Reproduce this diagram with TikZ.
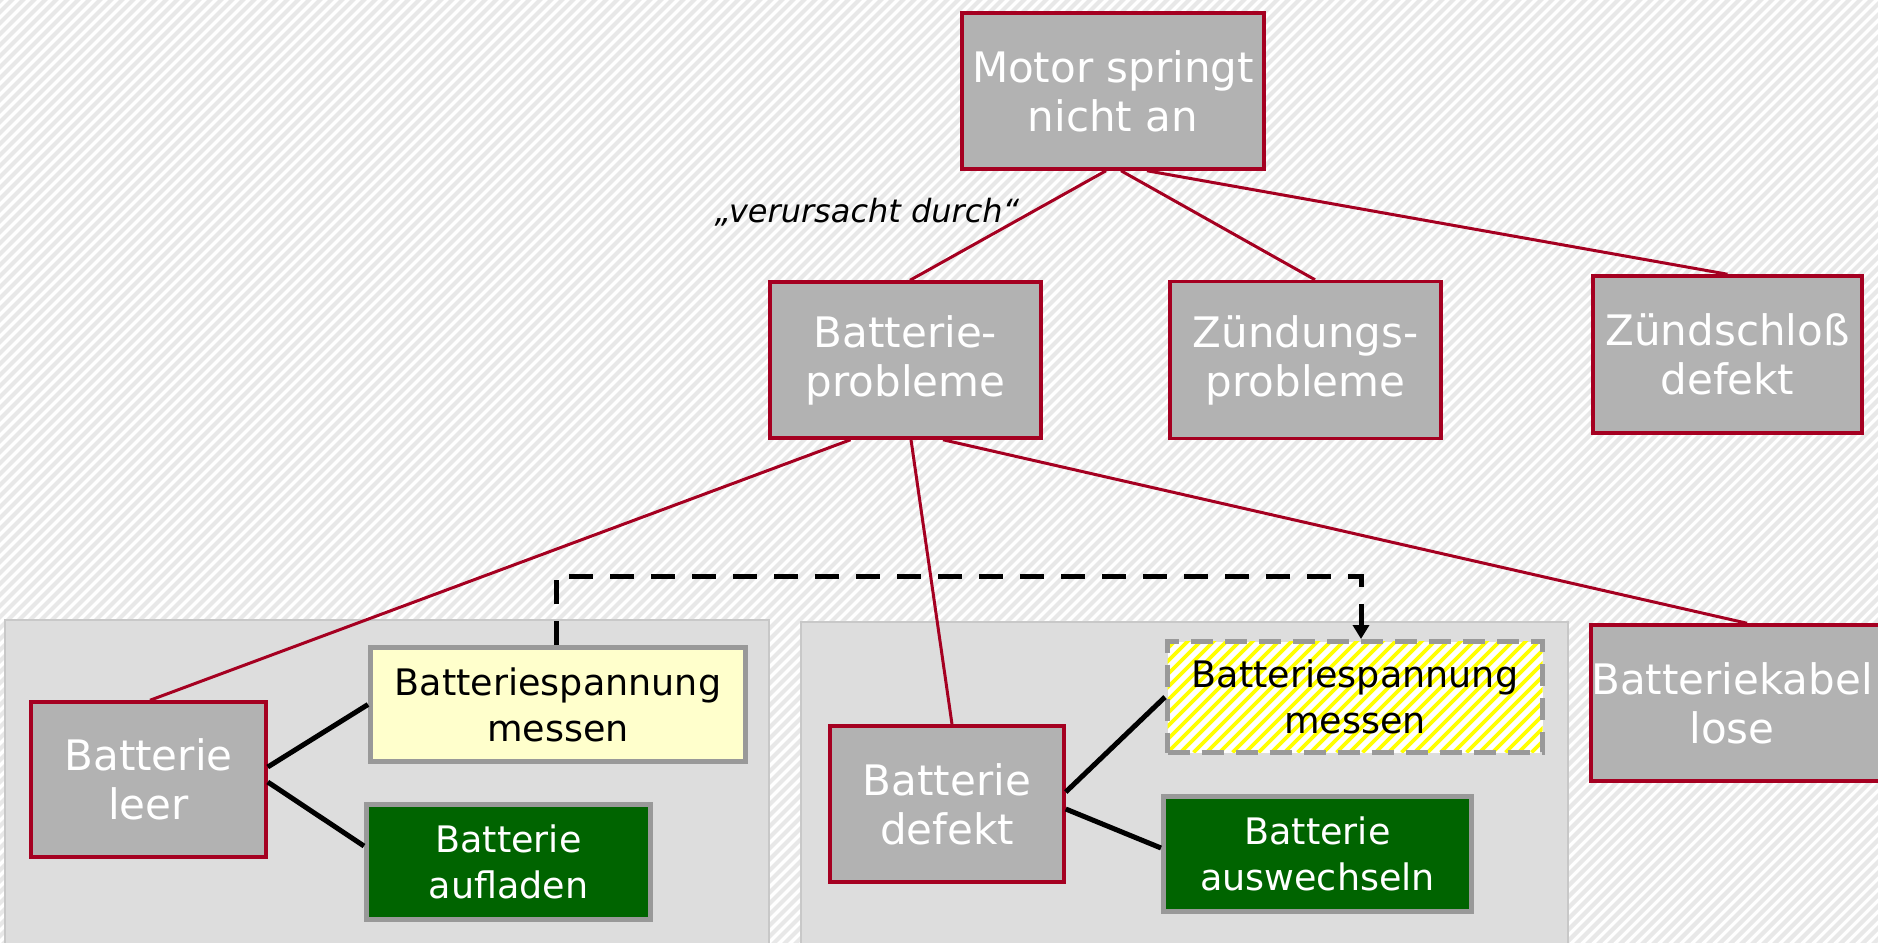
\documentclass[tikz,border=0pt]{standalone}
\usepackage{fontspec}
\setmainfont{DejaVu Sans}
\usetikzlibrary{calc,arrows.meta}

\definecolor{causered}{HTML}{A50021}
\definecolor{nodegrey}{HTML}{B2B2B2}
\definecolor{panelgrey}{HTML}{DDDDDD}
\definecolor{panelline}{HTML}{C8C8C8}
\definecolor{boxgrey}{HTML}{999999}
\definecolor{paleyellow}{HTML}{FFFFCC}
\definecolor{actiongreen}{HTML}{006400}
\definecolor{stripegrey}{HTML}{E8E8E8}
\definecolor{hatchyellow}{HTML}{FFFF00}

\tikzset{
  cause/.style={draw=causered, line width=1.75pt, fill=nodegrey, text=white,
    align=center, inner sep=0pt, font=\fontsize{21}{24.5}\selectfont},
  action/.style={draw=boxgrey, line width=2.5pt, align=center, inner sep=0pt,
    font=\fontsize{18.25}{23}\selectfont},
  measure/.style={action, fill=paleyellow, text=black},
  remedy/.style={action, fill=actiongreen, text=white},
  suggested/.style={action, dash pattern=on 11pt off 6pt, fill=white, text=black,
    path picture={
      \foreach \i in {-12,...,32}{
        \draw[hatchyellow, line width=1.9pt, solid]
          ([xshift=\i*6.5pt]path picture bounding box.south west) -- ++(70pt,70pt);
      }
    }},
  redlink/.style={draw=causered, line width=1.5pt},
  blacklink/.style={draw=black, line width=2.5pt},
  reuse/.style={draw=black, line width=2.5pt, dash pattern=on 12pt off 8.5pt,
    -{Triangle[width=8pt,length=7pt]}},
  panel/.style={fill=panelgrey, draw=panelline, line width=0.6pt},
}

\begin{document}
\begin{tikzpicture}[x=0.5pt,y=-0.5pt]
  \useasboundingbox (0,0) rectangle (1878,942);

  % striped backdrop
  \begin{scope}
    \clip (0,0) rectangle (1878,942);
    \fill[white] (0,0) rectangle (1878,942);
    \foreach \i in {0,...,262}{
      \draw[stripegrey, line width=2.1pt] (\i*11,-10) -- (\i*11-960,950);
    }
    % grey panels behind the two sub-trees
    \draw[panel] (5,620) rectangle (769,946);
    \draw[panel] (801,622) rectangle (1568,946);
  \end{scope}

  % causes
  \node[cause, minimum width=151pt, minimum height=78pt] (motor) at (1113,91)
    {Motor springt\\nicht an};
  \node[cause, minimum width=135.5pt, minimum height=78pt] (bp) at (905.5,360)
    {Batterie-\\probleme};
  \node[cause, minimum width=135.5pt, minimum height=78.5pt] (zp) at (1305.5,360)
    {Zündungs-\\probleme};
  \node[cause, minimum width=134.5pt, minimum height=78.5pt] (zs) at (1727.5,354.5)
    {Zündschloß\\defekt};
  \node[cause, minimum width=117.5pt, minimum height=77.5pt] (bl) at (148.5,779.5)
    {Batterie\\leer};
  \node[cause, minimum width=117pt, minimum height=78pt] (bd) at (947,804)
    {Batterie\\defekt};
  \node[cause, minimum width=148pt, minimum height=78pt] (bk) at (1742,703)
    {Batteriekabel\hspace*{10pt}\\lose\hspace*{10pt}};

  % actions
  \node[measure, minimum width=187.5pt, minimum height=57pt] (ym) at (558,704.5)
    {Batteriespannung\\messen};
  \node[remedy, minimum width=142pt, minimum height=57.5pt] (ba) at (508.5,862)
    {Batterie\\aufladen};
  \node[suggested, minimum width=187.5pt, minimum height=55.5pt] (hm) at (1355,697)
    {Batteriespannung\\messen};
  \node[remedy, minimum width=154pt, minimum height=57.5pt] (bw) at (1317.5,854)
    {Batterie\\auswechseln};

  % label of the cause relation
  \node[font=\fontsize{16}{19}\selectfont\itshape] (lbl) at (867,212)
    {„verursacht durch“};

  % cause links
  \draw[redlink] ($(motor.south)+(-7,0)$) -- ($(bp.north)+(4.5,0)$);
  \draw[redlink] ($(motor.south)+(8,0)$) -- ($(zp.north)+(9.5,0)$);
  \draw[redlink] ($(motor.south)+(34,0)$) -- (zs.north);
  \draw[redlink] ($(bp.south)+(-55,0)$) -- ($(bl.north)+(1.5,0)$);
  \draw[redlink] ($(bp.south)+(5.5,0)$) -- ($(bd.north)+(5,0)$);
  \draw[redlink] ($(bp.south)+(37.5,0)$) -- ($(bk.north)+(5,0)$);

  % action links
  \draw[blacklink] ($(bl.east)+(0,-12.5)$) -- (ym.west);
  \draw[blacklink] ($(bl.east)+(0,2.5)$) -- ($(ba.west)+(0,-16)$);
  \draw[blacklink] ($(bd.east)+(0,-12)$) -- (hm.west);
  \draw[blacklink] ($(bd.east)+(0,5)$) -- ($(bw.west)+(0,-6)$);

  % reuse of the measurement
  \draw[reuse] ($(ym.north)+(-2,0)$) -- ($(ym.north)+(-2,-69)$) -| ($(hm.north)+(6,0)$);
\end{tikzpicture}
\end{document}
